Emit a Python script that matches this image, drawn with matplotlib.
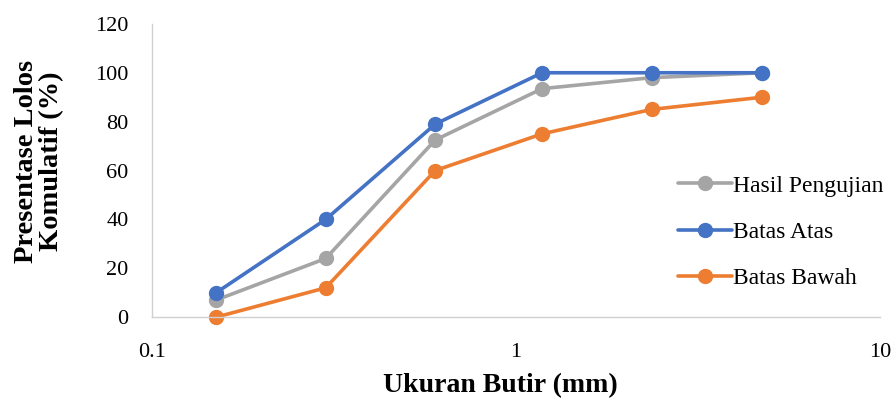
import matplotlib
matplotlib.use("Agg")
import matplotlib.pyplot as plt
from matplotlib.ticker import FixedLocator, FixedFormatter, NullLocator

sizes = [0.15, 0.3, 0.6, 1.18, 2.36, 4.75]
hasil = [7, 24, 72.5, 93.5, 98, 100]
atas = [10, 40, 79, 100, 100, 100]
bawah = [0, 12, 60, 75, 85, 90]
series_names = ["Hasil Pengujian", "Batas Atas", "Batas Bawah"]
xticks = [0.1, 1, 10]
xticklabels = ["0.1", "1", "10"]
yticks = [0, 20, 40, 60, 80, 100, 120]

plt.rcParams['font.family'] = ['Liberation Serif', 'DejaVu Serif']

fig = plt.figure(figsize=(8.95, 4.05), dpi=100)
ax = fig.add_axes([0.170, 0.217, 0.813, 0.724])

colors = ["#A5A5A5", "#4472C4", "#ED7D31"]
for vals, name, c in zip([hasil, atas, bawah], series_names, colors):
    ax.plot(sizes, vals, color=c, lw=2.6, marker='o', markersize=10, label=name,
            solid_capstyle='round', clip_on=False)

ax.set_xscale('log')
ax.set_xlim(0.1, 10)
ax.set_ylim(0, 120)
ax.xaxis.set_major_locator(FixedLocator(xticks))
ax.xaxis.set_major_formatter(FixedFormatter(xticklabels))
ax.xaxis.set_minor_locator(NullLocator())
ax.set_yticks(yticks)
ax.tick_params(axis='both', length=0, labelsize=16, colors='#000000')
ax.tick_params(axis='x', pad=18.5)
ax.tick_params(axis='y', pad=17)
for s in ['top', 'right']:
    ax.spines[s].set_visible(False)
for s in ['left', 'bottom']:
    ax.spines[s].set_color('#d0d0d0')
    ax.spines[s].set_linewidth(1.0)

ax.set_xlabel("Ukuran Butir (mm)", fontsize=20, fontweight='bold')
ax.xaxis.label.set_verticalalignment('center')
ax.xaxis.set_label_coords(0.478, -0.235)
ax.set_ylabel("Presentase Lolos\nKomulatif (%)", fontsize=20.5, fontweight='bold',
              linespacing=1.0)
ax.yaxis.label.set_verticalalignment('center')
ax.yaxis.set_label_coords(-0.155, 0.532)

leg = ax.legend(loc='center left', bbox_to_anchor=(0.722, 0.29), frameon=False,
                fontsize=17, handlelength=2.3, handletextpad=0.05, labelspacing=1.05,
                borderaxespad=0, borderpad=0)

fig.savefig("out.png", dpi=100)
